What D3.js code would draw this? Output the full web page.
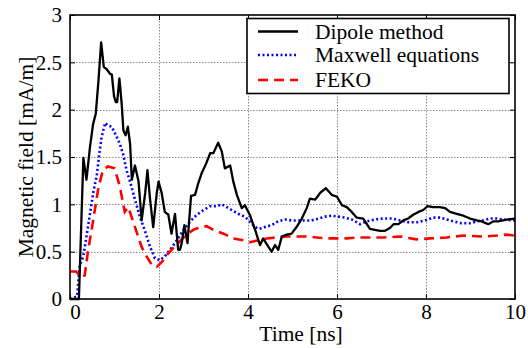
<!DOCTYPE html>
<html><head><meta charset="utf-8">
<script src="https://cdn.jsdelivr.net/npm/d3@7"></script>
<style>body{margin:0;background:#fff}svg{display:block}svg text{font-family:"Liberation Serif","Times New Roman",serif !important;fill:#000}</style>
</head><body><svg id="c" width="528" height="348"></svg>
<script>
const xTicks = [0, 2, 4, 6, 8, 10];
const yTicks = [0, 0.5, 1, 1.5, 2, 2.5, 3];
const seriesNames = ["Dipole method", "Maxwell equations", "FEKO"];

const dipoleT = [0,0.2,0.3,0.37,0.45,0.52,0.58,0.64,0.70,0.76,0.82,0.90,0.94,0.99,1.03,1.06,1.11,1.16,1.20,1.25,1.30,1.35,1.39,1.46,1.54,1.61,1.69,1.74,1.80,1.87,1.95,1.99,2.06,2.13,2.21,2.28,2.36,2.43,2.47,2.51,2.57,2.64,2.72,2.81,2.88,2.96,3.05,3.15,3.22,3.33,3.41,3.48,3.60,3.67,3.75,3.86,3.93,4.04,4.16,4.27,4.34,4.46,4.53,4.61,4.68,4.76,4.87,4.98,5.09,5.21,5.32,5.39,5.51,5.62,5.75,5.88,6.0,6.11,6.22,6.33,6.44,6.59,6.74,6.85,6.97,7.08,7.19,7.27,7.38,7.49,7.60,7.71,7.83,7.94,8.03,8.16,8.31,8.43,8.54,8.69,8.84,8.99,9.14,9.25,9.40,9.51,9.62,9.73,9.85,10.0];
const dipoleV = [0,0,1.49,1.26,1.61,1.85,1.96,2.31,2.71,2.45,2.43,2.38,2.37,2.14,2.08,2.08,2.33,2.07,1.78,1.73,1.82,1.64,1.26,1.41,1.24,0.83,1.12,1.36,1.05,0.76,1.12,1.24,1.12,0.92,0.89,0.69,0.90,0.52,0.52,0.59,0.78,0.59,1.09,1.10,1.22,1.33,1.42,1.54,1.54,1.65,1.56,1.38,1.41,1.24,1.10,0.96,0.99,0.89,0.73,0.57,0.64,0.55,0.50,0.57,0.52,0.66,0.68,0.69,0.76,0.85,0.96,1.06,1.05,1.12,1.17,1.10,1.08,0.99,0.97,0.92,0.86,0.85,0.74,0.73,0.72,0.72,0.75,0.79,0.79,0.83,0.85,0.89,0.92,0.94,0.98,0.97,0.97,0.96,0.92,0.90,0.88,0.85,0.83,0.82,0.79,0.82,0.82,0.83,0.84,0.85];

const maxwellT = [0,0.16,0.22,0.30,0.37,0.45,0.52,0.60,0.66,0.71,0.79,0.86,0.94,1.01,1.12,1.20,1.27,1.35,1.46,1.57,1.69,1.80,1.91,2.02,2.13,2.25,2.40,2.55,2.70,2.85,3.0,3.15,3.30,3.41,3.52,3.63,3.78,3.93,4.04,4.16,4.25,4.38,4.53,4.68,4.83,4.98,5.13,5.28,5.43,5.58,5.73,5.88,6.03,6.18,6.33,6.52,6.67,6.85,7.04,7.23,7.42,7.60,7.79,7.98,8.16,8.31,8.46,8.61,8.80,8.99,9.14,9.29,9.44,9.59,9.73,10.0];
const maxwellV = [0,0.03,0.36,0.45,0.66,0.90,1.12,1.30,1.54,1.71,1.86,1.83,1.82,1.75,1.64,1.52,1.36,1.24,1.05,0.87,0.71,0.55,0.43,0.41,0.45,0.52,0.62,0.73,0.82,0.89,0.94,0.98,0.98,1.00,0.97,0.94,0.90,0.87,0.82,0.76,0.74,0.76,0.78,0.82,0.84,0.83,0.83,0.83,0.83,0.85,0.87,0.88,0.87,0.86,0.84,0.79,0.82,0.84,0.85,0.85,0.83,0.81,0.81,0.83,0.86,0.86,0.84,0.82,0.80,0.80,0.82,0.83,0.85,0.85,0.84,0.83];

const fekoT = [0,0.14,0.25,0.33,0.40,0.52,0.64,0.74,0.85,1.0,1.12,1.23,1.31,1.46,1.61,1.72,1.84,1.95,2.06,2.17,2.32,2.47,2.62,2.77,2.92,3.07,3.22,3.45,3.67,3.90,4.04,4.23,4.42,4.64,4.87,5.09,5.32,5.54,5.77,5.99,6.22,6.48,6.67,7.04,7.42,7.79,8.09,8.46,8.84,9.29,9.59,9.81,10.0];
const fekoV = [0.29,0.29,0.23,0.25,0.49,0.83,1.18,1.36,1.40,1.38,1.19,0.92,0.97,0.76,0.55,0.45,0.36,0.34,0.39,0.46,0.54,0.61,0.68,0.73,0.76,0.77,0.73,0.69,0.64,0.62,0.60,0.62,0.64,0.65,0.66,0.66,0.66,0.65,0.64,0.64,0.64,0.65,0.65,0.65,0.66,0.63,0.64,0.65,0.67,0.66,0.67,0.68,0.67];

const W = 528, H = 348;
const m = {left: 70, right: 13, top: 15, bottom: 49};
const FONT = '"Liberation Serif", "Times New Roman", serif';
const svg = d3.select("#c");
const x = d3.scaleLinear().domain([0, 10]).range([m.left, W - m.right]);
const y = d3.scaleLinear().domain([0, 3]).range([H - m.bottom, m.top]);
const pw = W - m.left - m.right, ph = H - m.top - m.bottom;

// grid
const grid = svg.append("g").attr("stroke", "#8a8a8a").attr("stroke-width", 1).attr("stroke-dasharray", "1.5,1.5");
grid.selectAll(".gx").data(xTicks.slice(1, -1)).join("line")
  .attr("x1", d => Math.round(x(d)) + 0.5).attr("x2", d => Math.round(x(d)) + 0.5)
  .attr("y1", m.top).attr("y2", H - m.bottom);
grid.selectAll(".gy").data(yTicks.slice(1, -1)).join("line")
  .attr("y1", d => Math.round(y(d)) + 0.5).attr("y2", d => Math.round(y(d)) + 0.5)
  .attr("x1", m.left).attr("x2", W - m.right);

// axes with inward ticks
const tickLen = 5;
const fs = 21, fsL = 21.5;
const ax = svg.append("g").attr("transform", `translate(0,${H - m.bottom})`)
  .call(d3.axisBottom(x).tickValues(xTicks).tickSize(-tickLen).tickPadding(5).tickFormat(d3.format("d")));
const axT = svg.append("g").attr("transform", `translate(0,${m.top})`)
  .call(d3.axisTop(x).tickValues(xTicks).tickSize(-tickLen).tickFormat(""));
const ay = svg.append("g").attr("transform", `translate(${m.left},0)`)
  .call(d3.axisLeft(y).tickValues(yTicks).tickSize(-tickLen).tickPadding(8).tickFormat(d => d));
const ayR = svg.append("g").attr("transform", `translate(${W - m.right},0)`)
  .call(d3.axisRight(y).tickValues(yTicks).tickSize(-tickLen).tickFormat(""));
[ax, axT, ay, ayR].forEach(g => {
  g.attr("font-family", null).attr("font-size", null);
  g.select(".domain").remove();
  g.selectAll(".tick line").attr("stroke", "#000").attr("stroke-width", 1);
  g.selectAll("text").style("font-size", fs + "px").style("font-family", FONT).attr("fill", "#000");
});
ax.selectAll("text").filter(d => d === 0).attr("dx", 5);

// series
const line = d3.line().x(d => x(d[0])).y(d => y(d[1]));
const zip = (t, v) => t.map((d, i) => [d, v[i]]);
const plotG = svg.append("g");
plotG.append("path").datum(zip(maxwellT, maxwellV)).attr("d", line)
  .attr("fill", "none").attr("stroke", "#0000ff").attr("stroke-width", 2.6).attr("stroke-dasharray", "2,2.5");
plotG.append("path").datum(zip(fekoT, fekoV)).attr("d", line)
  .attr("fill", "none").attr("stroke", "#ff0000").attr("stroke-width", 2.6).attr("stroke-dasharray", "10,6");
plotG.append("path").datum(zip(dipoleT, dipoleV)).attr("d", line)
  .attr("fill", "none").attr("stroke", "#000").attr("stroke-width", 2.3).attr("stroke-linejoin", "round");

// frame
svg.append("rect").attr("x", m.left).attr("y", m.top).attr("width", pw).attr("height", ph)
  .attr("fill", "none").attr("stroke", "#000").attr("stroke-width", 1.6);

// legend
const lg = svg.append("g");
lg.append("rect").attr("x", 247).attr("y", 18.5).attr("width", 262).attr("height", 75)
  .attr("fill", "#fff").attr("stroke", "#000").attr("stroke-width", 1.6);
const styles = [
  {stroke: "#000", dash: null, w: 2.3},
  {stroke: "#0000ff", dash: "2,2.5", w: 2.6},
  {stroke: "#ff0000", dash: "10,6", w: 2.6}
];
const rowY = [31.5, 55, 80];
seriesNames.forEach((n, i) => {
  lg.append("line").attr("x1", 258).attr("x2", 298).attr("y1", rowY[i]).attr("y2", rowY[i])
    .attr("stroke", styles[i].stroke).attr("stroke-width", styles[i].w).attr("stroke-dasharray", styles[i].dash);
  lg.append("text").attr("x", 315).attr("y", rowY[i] + 7).style("font-size", fsL + "px").style("font-family", FONT).text(n);
});

// axis titles
svg.append("text").attr("x", 301).attr("y", 341).attr("text-anchor", "middle")
  .style("font-size", fsL + "px").style("font-family", FONT).text("Time [ns]");
svg.append("text").attr("transform", `translate(33,${(m.top + H - m.bottom) / 2}) rotate(-90)`)
  .attr("text-anchor", "middle").style("font-size", fsL + "px").style("font-family", FONT).text("Magnetic field [mA/m]");
</script></body></html>
